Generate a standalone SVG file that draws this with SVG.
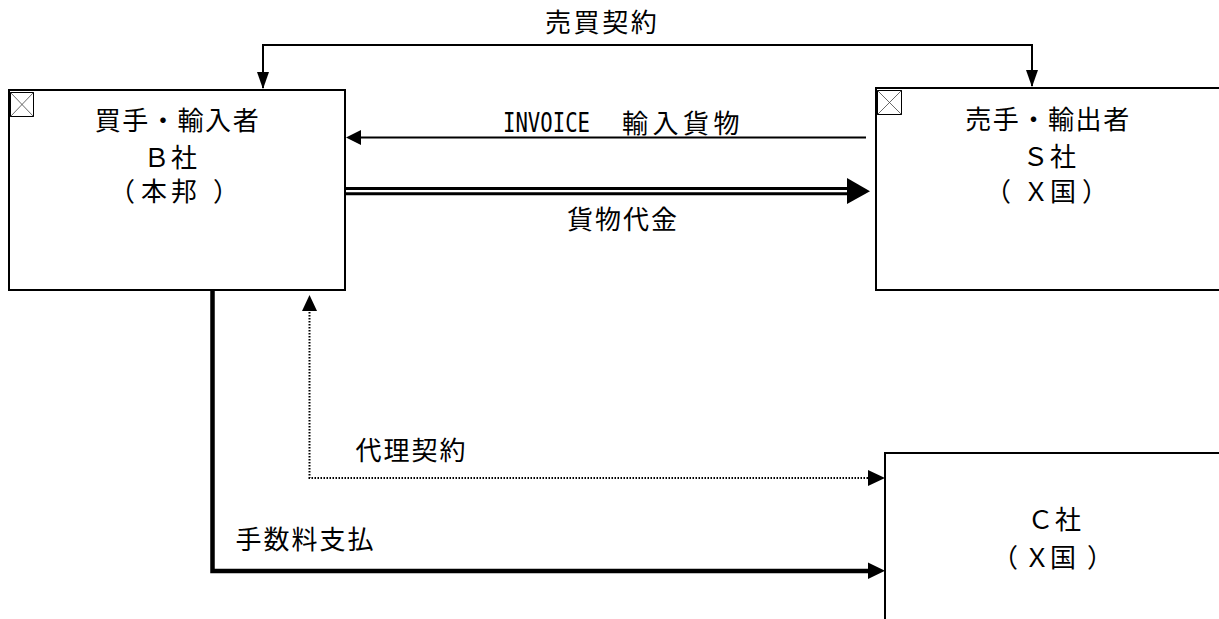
<svg xmlns="http://www.w3.org/2000/svg" width="1219" height="619" viewBox="0 0 1219 619">
<style>
.box{fill:#fff;stroke:#000;stroke-width:2}
.t{font-family:"Noto Sans CJK JP","Noto Sans CJK SC",sans-serif;font-size:26px;fill:#000;letter-spacing:1.6px}
.c{text-anchor:middle}
.ln{fill:none;stroke:#000;stroke-width:2}
.icon{fill:#fff;stroke:#000;stroke-width:1}
.icx{stroke:#444;stroke-width:0.8}
</style>
<rect width="1219" height="619" fill="#fff"/>
<g id="connectors">
  <path class="ln" d="M263,88 V45 H1032 V86"/>
  <polygon points="257,72 269,72 263,89" fill="#000"/>
  <polygon points="1026,70 1038,70 1032,87" fill="#000"/>
  <line class="ln" x1="866" y1="137.5" x2="358" y2="137.5"/>
  <polygon points="346,137.5 361,130 361,145" fill="#000"/>
  <line x1="345" y1="188.5" x2="850" y2="188.5" stroke="#000" stroke-width="3"/>
  <line x1="345" y1="193.8" x2="850" y2="193.8" stroke="#000" stroke-width="3"/>
  <polygon points="847,178 870,191.2 847,204" fill="#000"/>
  <path d="M309.5,309 V478 H870" fill="none" stroke="#000" stroke-width="2" stroke-dasharray="1.5 1.5"/>
  <polygon points="309.5,295 302,311 317,311" fill="#000"/>
  <polygon points="868,470 885,478 868,486" fill="#000"/>
  <path d="M212.5,291 V571 H870" fill="none" stroke="#000" stroke-width="4.5"/>
  <polygon points="868,562.5 885,570.8 868,579" fill="#000"/>
  <text class="t" x="545" y="32" style="letter-spacing:2.6px">売買契約</text>
  <text x="503" y="132" font-family="DejaVu Sans Mono, monospace" font-size="26" textLength="87" lengthAdjust="spacingAndGlyphs">INVOICE</text>
  <text class="t" x="622" y="133" style="letter-spacing:4.5px">輸入貨物</text>
  <text class="t" x="567" y="228.5" style="letter-spacing:2px">貨物代金</text>
  <text class="t" x="355.5" y="459.5" style="letter-spacing:2px">代理契約</text>
  <text class="t" x="235.5" y="549" style="letter-spacing:2px">手数料支払</text>
</g>
<g id="node-buyer">
  <rect class="box" x="9" y="90" width="336" height="200"/>
  <rect class="icon" x="10.5" y="92.5" width="23" height="24"/>
  <line class="icx" x1="10.5" y1="92.5" x2="33.5" y2="116.5"/>
  <line class="icx" x1="33.5" y1="92.5" x2="10.5" y2="116.5"/>
  <text class="t c" x="177.5" y="129.5">買手・輸入者</text>
  <text class="t c" x="171" y="166.5">Ｂ社</text>
  <text class="t" x="109 141 171 213" y="200.5">（本邦）</text>
</g>
<g id="node-seller">
  <rect class="box" x="876" y="88" width="360" height="202"/>
  <rect class="icon" x="877.5" y="90.5" width="24" height="24"/>
  <line class="icx" x1="877.5" y1="90.5" x2="901.5" y2="114.5"/>
  <line class="icx" x1="901.5" y1="90.5" x2="877.5" y2="114.5"/>
  <text class="t c" x="1048" y="128.5">売手・輸出者</text>
  <text class="t c" x="1050" y="165.5">Ｓ社</text>
  <text class="t" x="985 1023 1050 1082" y="201">（Ｘ国）</text>
</g>
<g id="node-c">
  <rect class="box" x="885" y="453" width="360" height="200"/>
  <text class="t c" x="1055" y="528.5">Ｃ社</text>
  <text class="t" x="992 1024 1050 1087" y="567">（Ｘ国）</text>
</g>
</svg>
